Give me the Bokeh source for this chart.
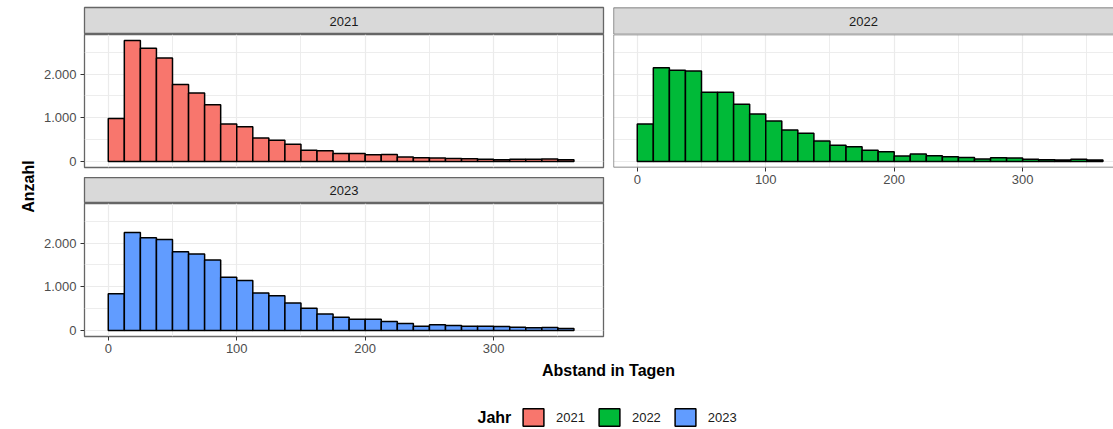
import numpy as np
from bokeh.plotting import figure
from bokeh.models import (Range1d, FixedTicker, CustomJSTickFormatter, Span, Legend,
                          LegendItem, Grid)
from bokeh.layouts import row, column
from bokeh.embed import file_html
from bokeh.resources import INLINE
from bokeh.core.properties import value

# ---------------- data ----------------
years = ["2021", "2022", "2023"]
bin_width = 12.5
counts_2021 = [980, 2766, 2591, 2364, 1759, 1568, 1295, 857, 795, 539, 486, 395, 259, 243,
               182, 182, 152, 160, 100, 85, 78, 70, 62, 48, 40, 48, 48, 55, 40]
counts_2022 = [857, 2145, 2084, 2068, 1584, 1584, 1311, 1084, 925, 720, 645, 470, 372, 334,
               259, 220, 122, 168, 130, 107, 92, 55, 84, 77, 48, 40, 33, 48, 33]
counts_2023 = [841, 2243, 2121, 2083, 1803, 1750, 1614, 1220, 1144, 856, 795, 629, 508, 379,
               303, 258, 258, 205, 159, 99, 129, 114, 99, 99, 91, 76, 61, 68, 46]
colors = ["#F8766D", "#00BA38", "#619CFF"]
x_ticks = [0, 100, 200, 300]
x_minor = [50, 150, 250, 350]
y_ticks = [0, 1000, 2000]
y_minor = [500, 1500, 2500]
x_title = "Abstand in Tagen"
y_title = "Anzahl"
legend_title = "Jahr"

# ---------------- style ----------------
FONT = "Liberation Sans"
BORDER = "#666666"
GRID = "#EBEBEB"
TICK_TXT = "#4D4D4D"
STRIP_FILL = "#D9D9D9"

all_counts = [counts_2021, counts_2022, counts_2023]
ymax = max(max(c) for c in all_counts)
Y0, Y1 = -0.05 * ymax, 1.05 * ymax
X0, X1 = -18.5, 385.5
FW_L = 519
FW_R = 500
UPX = (X1 - X0) / FW_L
X1_R = X0 + FW_R * UPX
FH = 133

de_fmt = CustomJSTickFormatter(code=r"return tick.toFixed(0).replace(/\B(?=(\d{3})+(?!\d))/g, '.');")


def add_grids(p):
    p.center = [r for r in p.center if not isinstance(r, Grid)]
    for dim, t, m in ((0, x_ticks, x_minor), (1, y_ticks, y_minor)):
        g = Grid(dimension=dim, ticker=FixedTicker(ticks=t, minor_ticks=m),
                 grid_line_color=GRID, grid_line_width=1.2,
                 minor_grid_line_color=GRID, minor_grid_line_width=0.9)
        p.add_layout(g, "center")


def style_axis(ax):
    ax.axis_line_color = None
    ax.major_tick_line_color = "#333333"
    ax.major_tick_out = 4
    ax.major_tick_in = 0
    ax.minor_tick_out = 0
    ax.minor_tick_in = 0
    ax.major_label_text_font = FONT
    ax.major_label_text_font_size = "13px"
    ax.major_label_text_color = TICK_TXT


def strip(label, fw, mbl, mbr, fh, mbt, full_border=True):
    s = figure(frame_width=fw, frame_height=fh, x_range=Range1d(0, 1), y_range=Range1d(0, 1),
               output_backend="svg", toolbar_location=None,
               min_border_left=mbl, min_border_right=mbr, min_border_top=mbt, min_border_bottom=0,
               x_axis_location=None, y_axis_location=None)
    s.center = [r for r in s.center if not isinstance(r, Grid)]
    s.background_fill_color = STRIP_FILL
    if full_border:
        s.outline_line_color = BORDER
        s.outline_line_width = 1.3
    else:
        s.outline_line_color = None
        for loc, dim in ((0, "height"), (0, "width"), (1, "width")):
            s.add_layout(Span(location=loc, dimension=dim, line_color=BORDER, line_width=1.3))
    s.text(x=[0.5], y=[0.5], text=[label], text_align="center", text_baseline="middle",
           text_font=value(FONT), text_font_size="13px", text_color="#1A1A1A")
    return s


def panel(counts, color, fw, x_end, left_axis, bottom_axis, mbl, mbr, mbb, full_border=True):
    p = figure(frame_width=fw, frame_height=FH, x_range=Range1d(X0, x_end), y_range=Range1d(Y0, Y1),
               output_backend="svg", toolbar_location=None,
               min_border_left=mbl, min_border_right=mbr, min_border_top=0, min_border_bottom=mbb,
               x_axis_location="below" if bottom_axis else None,
               y_axis_location="left" if left_axis else None)
    add_grids(p)
    n = len(counts)
    edges = np.arange(n + 1) * bin_width
    p.quad(left=edges[:-1], right=edges[1:], bottom=0, top=counts,
           fill_color=color, line_color="black", line_width=1.5)
    if full_border:
        p.outline_line_color = BORDER
        p.outline_line_width = 1.3
    else:
        p.outline_line_color = None
        p.add_layout(Span(location=X0, dimension="height", line_color=BORDER, line_width=1.3))
        p.add_layout(Span(location=Y0, dimension="width", line_color=BORDER, line_width=1.3))
        p.add_layout(Span(location=Y1, dimension="width", line_color=BORDER, line_width=1.3))
    if bottom_axis:
        p.xaxis.ticker = FixedTicker(ticks=x_ticks)
        style_axis(p.xaxis[0])
        p.xaxis.major_label_standoff = 3
    if left_axis:
        p.yaxis.ticker = FixedTicker(ticks=y_ticks)
        p.yaxis.formatter = de_fmt
        style_axis(p.yaxis[0])
        p.yaxis.major_label_standoff = 4
    return p


# left column (2021, 2023)
sA = strip(years[0], FW_L, 44, 9, 27, 7)
pA = panel(counts_2021, colors[0], FW_L, X1, True, False, 44, 9, 10)
sC = strip(years[2], FW_L, 44, 9, 26, 0)
pC = panel(counts_2023, colors[2], FW_L, X1, True, True, 44, 9, 23)
left_col = column(sA, pA, sC, pC)

# right column (2022)
sB = strip(years[1], FW_R, 1, 0, 27, 7, full_border=False)
pB = panel(counts_2022, colors[1], FW_R, X1_R, False, True, 1, 0, 25, full_border=False)
right_col = column(sB, pB)

# y-axis title
TOP_H = 7 + 27 + FH + 10 + 26 + FH + 23
af = figure(width=40, height=TOP_H, x_range=Range1d(0, 40), y_range=Range1d(0, TOP_H),
            output_backend="svg", toolbar_location=None, min_border=0,
            x_axis_location=None, y_axis_location=None)
af.center = [r for r in af.center if not isinstance(r, Grid)]
af.outline_line_color = None
af.text(x=[27.5], y=[TOP_H - 186], text=[y_title], angle=np.pi / 2,
        text_align="center", text_baseline="middle", text_font=value(FONT),
        text_font_size="16px", text_font_style="bold", text_color="#000000")

top = row(af, left_col, right_col)

# bottom: x title + legend
BW, BH = 1113, 429 - TOP_H
bf = figure(width=BW, height=BH, x_range=Range1d(0, BW), y_range=Range1d(0, BH),
            output_backend="svg", toolbar_location=None, min_border=0,
            x_axis_location=None, y_axis_location=None)
bf.center = [r for r in bf.center if not isinstance(r, Grid)]
bf.outline_line_color = None
bf.text(x=[608], y=[BH - (370 - TOP_H)], text=[x_title], text_align="center", text_baseline="middle",
        text_font=value(FONT), text_font_size="16px", text_font_style="bold", text_color="#000000")
bf.text(x=[477], y=[429 - 417], text=[legend_title], text_align="left", text_baseline="middle",
        text_font=value(FONT), text_font_size="16px", text_font_style="bold", text_color="#000000")
items = []
for yr, c in zip(years, colors):
    # legend key renderer: placed outside the visible range, only its legend glyph shows
    r = bf.quad(left=[-50], right=[-40], bottom=[-50], top=[-40],
                fill_color=c, line_color="black", line_width=1.5)
    items.append(LegendItem(label=yr, renderers=[r]))
leg = Legend(items=items, orientation="horizontal", location=(520, 1),
             glyph_width=26, glyph_height=22, label_height=22, label_standoff=10, spacing=11,
             padding=0, margin=0, border_line_color=None, background_fill_alpha=0,
             label_text_font=FONT, label_text_font_size="13px", label_text_color="#1A1A1A")
bf.add_layout(leg, "center")

layout = column(top, bf)

open("out.html", "w").write(file_html(layout, INLINE))
